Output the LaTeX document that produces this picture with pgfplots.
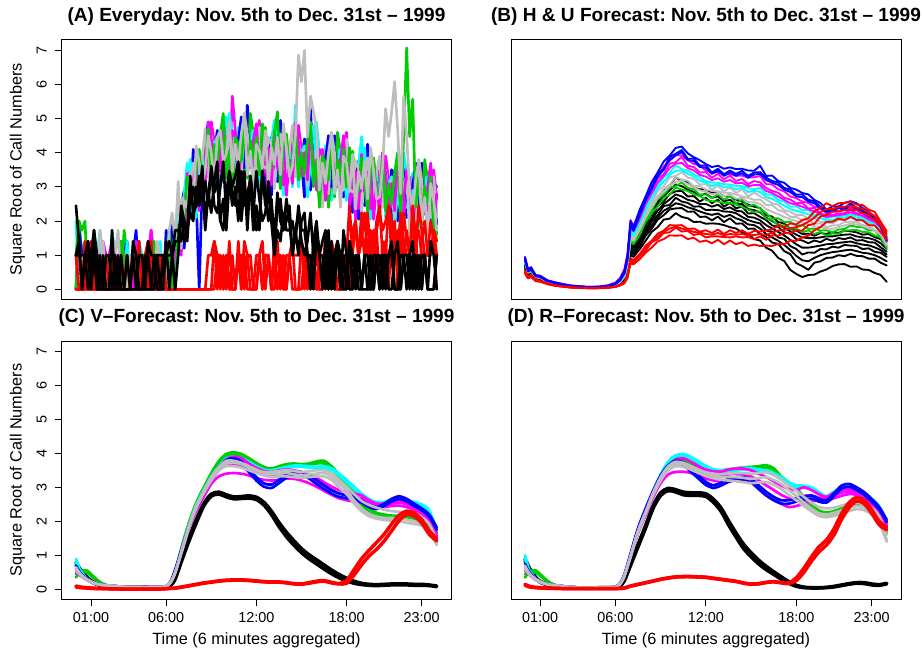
\documentclass[border=0pt]{standalone}
\usepackage{fontspec}
\setmainfont{Liberation Sans}
\usepackage{pgfplots}
\usepackage{pgfplotstable}
\pgfplotsset{compat=1.18}
\definecolor{rk}{RGB}{0,0,0}
\definecolor{rr}{RGB}{255,0,0}
\definecolor{rg}{RGB}{0,205,0}
\definecolor{rb}{RGB}{0,0,255}
\definecolor{rc}{RGB}{0,255,255}
\definecolor{rm}{RGB}{255,0,255}
\definecolor{ry}{RGB}{190,190,190}

\pgfplotstableread{
t k1 k2 r1 r2 g1 g2 b1 b2 c1 c2 m1 m2 y1 y2
0.0 2.45 1 1 0 0 1 1 0 2 0 1 0 0 0
0.2 1.41 1.41 0 0 2 2 0 1.73 0 1 1 1.41 0 1
0.4 0 0 0 0 1.73 1 1 1 0 0 0 0 1 0
0.6 1 1 0 0 2 1.41 0 0 1.41 1 1 0 1 1
0.8 0 1 1 0 0 0 1.41 1 0 0 0 1 0 1
1.0 1 0 0 1.41 0 1 1 0 1 1 1 1 1 0
1.2 1.73 1.73 0 0 1 0 0 1.41 0 0 0 0 1 0
1.4 0 1 1 0 1 1 0 0 1 1 1 1 0 0
1.6 0 0 0 0 0 0 1 0 1.73 1 0 1 0 1.73
1.8 0 1 0 0 1 1 1 1 0 0 1.41 0 1.41 1
2.0 1 0 0 1 0 0 0 1 0 0 1 0 0 0
2.2 1 0 0 0 1 1 1 0 0 0 0 1 1 1
2.4 0 0 1.41 0 0 1 1 1 1 1.73 0 1.41 0 0
2.6 1 0 0 1 1 0 0 1 1 1 1 0 1 1.41
2.8 0 0 0 0 0 0 0 0 0 0 1 1 1.73 0
3.0 1 0 0 0 1.41 0 1.41 0 1 1 0 0 0 0
3.2 0 0 0 0 1 1.73 0 1 0 0 1 1 0 1
3.4 1 0 0 1 0 1 1 1.41 1 1.41 1 0 0 1
3.6 0 0 0 0 0 0 0 0 0 0 0 1 1 0
3.8 1.41 0 1 0 1 1 1 1 1 0 0 0 1 1
4.0 1 0 0 0 1 0 1.73 0 0 1 1.41 1 0 1
4.2 0 0 0 1.41 0 1.41 0 1 1.41 1 0 1 1 0
4.4 0 0 0 0 1 0 0 0 1 0 1 0 0 0
4.6 1 0 1 1 1 0 0 1 0 1 0 0 1 1
4.8 1 0 0 0 0 1 1 0 0 1 1 0 0 1.41
5.0 0 0 1.41 0 0 1 1 1 1 0 1.73 1.73 1 0
5.2 1 0 0 0 1.41 0 0 1 1 0 0 1 0 1
5.4 1 1 0 1 0 1 1 0 0 1 0 0 1.41 0
5.6 0 1 0 0 1 1 0 0 1 1.41 0 1 1 1
5.8 0 1 1 0 0 0 1 0 1 0 1 0 0 0
6.0 1.41 1 0 0 1 0 0 1.73 0 1 1 1.41 0 1
6.2 0 1.41 0 0 1.73 1 1 1 0 0 0 0 1.73 0
6.4 1 1 0 0 0 1.41 0 2 1.41 1 1 0 2.24 1
6.6 0 1.73 0 0 0 0 1.41 1 0 0 0 1 1.41 1
6.8 1 1.73 0 0 1.9 2.5 1.0 1.8 1.8 2.3 1.6 1.4 3.16 1.3
7.0 2.45 1.41 0 0 1.5 1.9 2.4 2.4 1.6 1.8 1.0 2.3 1.2 2.6
7.2 2 2 0 0 2.1 2.0 2.9 1.2 2.8 1.8 2.7 1.5 2.6 2.7
7.4 1.41 1.73 0 0 3.3 3.2 2.3 2.6 3.7 2.9 2.8 3.4 2.4 1.7
7.6 2.83 3.32 0 0 2.9 3.2 2.7 2.1 2.1 3.8 2.5 2.5 3.4 2.9
7.8 3 2.24 0 0 2.1 2.1 3.9 4.1 3.0 2.5 3.8 3.2 2.5 3.7
8.0 2.45 2.45 0 0 3.6 3.3 2.6 3.7 2.1 3.8 2.4 3.6 4.2 3.0
8.2 2.65 3.32 0 0 4.0 4.1 0 3.0 3.8 3.2 3.7 2.3 3.7 2.9
8.4 3.61 3.16 0 0 3.25 3.35 3.15 3.75 3.75 3.85 3.35 3.55 3.05 3.85
8.6 2 1.73 0 0 3.6 3.2 4.2 3.1 3.4 2.9 4.3 3.0 3.5 4.7
8.8 2.83 2.83 0 0 4.7 4.1 4.9 4.7 4.6 4.6 3.3 4.9 4.5 3.3
9.0 2.24 3.46 0 0 3.3 4.9 3.2 3.8 3.1 3.6 4.9 4.4 4.0 4.5
9.2 3.16 2.45 0 1.41 4.25 3.55 4.05 3.75 4.35 4.25 4.35 3.65 3.15 3.85
9.4 3.74 2.24 1 1 3.65 4.65 2.95 4.65 3.85 4.45 3.55 4.25 4.45 4.35
9.6 2 3 1 0 4.55 3.85 4.45 4.45 4.65 2.95 3.85 3.45 4.65 3.25
9.8 2.65 3.74 0 1 5.15 4.35 4.25 3.15 3.55 4.05 4.75 4.95 3.75 4.85
10.0 1.73 2.24 1 0 3.35 3.25 3.75 4.15 5.05 3.35 4.15 3.95 3.95 3.75
10.2 3.16 3.32 0 1.41 4.05 4.85 4.85 4.75 4.35 5.15 3.15 3.75 4.95 4.25
10.4 2.83 2.45 1 0 2.95 3.75 3.25 3.85 3.55 4.55 5.66 4.65 3.45 4.45
10.6 2.45 3 0 0 4.45 4.25 4.35 3.55 3.85 3.65 4.65 4.45 4.25 2.95
10.8 3.46 2 1 1 4.25 4.45 3.85 4.35 4.75 4.25 3.75 3.15 3.65 4.05
11.0 2 3.46 0 1 3.75 2.95 4.65 5.05 4.15 3.45 3.95 4.15 4.55 3.35
11.2 3 2.45 1.41 0 4.85 4.05 3.55 3.55 3.15 4.95 4.95 4.75 5.15 5.15
11.4 2.45 2.83 1 1 3.25 3.35 5.39 4.65 4.45 3.95 3.45 3.85 3.35 4.55
11.6 3.32 3.16 0 1 4.35 5.15 4.35 3.85 4.65 3.75 4.25 3.55 4.05 3.65
11.8 2.24 1.73 0 0 3.85 4.55 3.55 4.35 3.75 4.65 3.65 4.35 2.95 4.25
12.0 3.46 2.45 1 0 4.45 3.45 3.65 3.05 3.75 4.25 4.35 4.85 4.25 3.25
12.2 2.65 1.73 1 1 3.35 4.05 4.55 4.65 4.75 2.95 4.95 3.35 4.05 4.75
12.4 2 3.46 0 1.41 4.85 3.25 3.95 3.55 3.25 3.95 3.15 4.45 3.55 3.75
12.6 2.24 2.83 1 0 4.15 4.75 2.95 4.05 4.05 4.55 3.85 3.65 4.65 3.55
12.8 3.16 2 1 1 3.35 3.75 4.25 4.25 3.45 3.65 2.75 4.15 3.05 4.45
13.0 2.45 2.65 0 0 3.65 3.55 4.45 2.75 4.35 3.35 4.25 3.05 4.15 4.25
13.2 1 1.41 0 1 4.55 4.45 3.55 3.85 4.95 4.15 4.05 4.65 3.65 2.95
13.4 2.45 2.83 1.41 0 5.2 4.25 3.75 3.15 3.15 4.85 3.55 3.55 4.45 3.95
13.6 2.65 2 0 1 2.95 2.95 4.75 4.95 3.85 3.35 4.65 4.05 3.35 4.55
13.8 1.73 1.73 1 0 4.25 3.95 3.25 4.35 2.75 4.45 3.05 4.25 4.85 3.65
14.0 2 2.65 0 1 4.45 4.55 4.05 3.45 4.25 3.65 4.15 2.75 4.15 3.35
14.2 2.45 2 1 1 3.5 3.6 3.4 4.0 4.0 4.1 3.6 3.8 3.3 4.1
14.4 1 1 1.41 0 3.7 3.3 4.3 3.2 3.5 3.0 4.4 3.1 3.6 4.8
14.6 1.73 1.73 0 0 4.7 4.1 4.9 4.7 5.39 4.6 3.3 4.9 4.5 3.3
14.8 1 2.24 0 0 3.2 4.8 3.1 3.7 3.0 3.5 4.8 4.3 6.86 4.4
15.0 2 1.41 0 1.41 4.0 3.3 3.8 3.5 4.1 4.0 4.1 3.4 6.08 3.6
15.2 2.24 1 1 1 3.4 4.4 2.7 4.4 3.6 4.2 3.3 4.0 7 4.1
15.4 1 1.41 1 0 4.3 3.6 4.2 4.2 4.4 2.7 3.6 3.2 4.47 3.0
15.6 1 2.24 0 1 4.9 4.1 5.29 2.9 3.3 3.8 4.5 4.7 5.66 4.6
15.8 0 1 1 0 3.1 3.0 3.5 3.9 4.8 3.1 3.9 3.7 5.2 3.5
16.0 1.73 1.73 0 1.41 3.8 4.6 4.6 4.5 4.1 4.9 2.9 3.5 4.7 4.0
16.2 1 1 1 0 2.4 3.2 2.7 3.3 3.0 4.0 3.9 4.1 2.9 3.9
16.4 0 1 0 0 3.9 3.7 3.8 3.0 3.3 3.1 4.1 3.9 3.7 2.4
16.6 1.41 0 1 1 3.7 3.9 3.3 3.8 4.2 3.7 3.2 2.6 3.1 3.5
16.8 0 1.73 0 1 3.2 2.4 4.1 4.5 3.6 2.9 3.4 3.6 4.0 2.8
17.0 1 0 1.41 0 4.3 3.5 3.0 3.0 2.6 4.4 4.4 4.2 4.6 4.6
17.2 1 1 1 1 2.7 2.8 4.5 4.1 3.9 3.4 2.9 3.3 2.8 4.0
17.4 1.41 1 0 1.41 3.8 4.6 3.8 3.3 4.1 3.2 3.7 3.0 3.5 3.1
17.6 0 0 0 0 3.3 4.0 3.0 3.8 3.2 4.1 3.1 3.8 2.4 3.7
17.8 1.73 1 1 0 4.1 3.1 3.3 2.7 3.4 3.9 4.0 4.5 3.9 2.9
18.0 1 0 1 1 3.0 3.7 4.2 4.3 4.4 2.6 4.6 3.0 3.7 4.4
18.2 0 1.41 0 2.45 4.15 2.55 3.25 2.85 2.55 3.25 2.45 3.75 2.85 3.05
18.4 0 1 1.73 1 3.45 4.05 2.25 3.35 3.35 3.85 3.15 2.95 3.95 2.85
18.6 1 0 2 2 2.65 3.05 3.55 3.55 2.75 2.95 2.05 3.45 2.35 3.75
18.8 1 1 1 1 2.95 2.85 3.75 2.05 3.65 2.65 3.55 2.35 3.45 3.55
19.0 0 0 1.41 1.73 3.85 3.75 2.85 3.15 4.47 3.45 3.35 3.95 2.95 2.25
19.2 1 1 2.24 1 3.25 3.55 3.05 2.45 2.45 4.15 2.85 2.85 3.75 3.25
19.4 1 0 1 2.24 2.25 2.25 4.05 4.25 3.15 2.65 3.95 3.35 2.65 3.85
19.6 0 0 1.73 1 3.55 3.25 2.55 3.65 2.05 3.75 2.35 3.55 4.15 2.95
19.8 0 1 1 1.73 3.75 3.85 3.35 2.75 3.55 2.95 3.45 2.05 3.45 2.65
20.0 1 1 2 1.73 2.85 2.95 2.75 3.35 3.35 3.45 2.95 3.15 2.65 3.45
20.2 0 0 2.45 0 2.8 2.4 3.4 2.3 2.6 2.1 3.5 2.2 2.7 3.9
20.4 1 1 1 1.41 3.8 3.2 4.0 3.8 3.7 3.7 2.4 4.0 3.6 2.4
20.6 0 1 1.41 1 2.3 3.9 2.2 2.8 2.1 2.6 3.9 3.4 5.29 3.5
20.8 1 0 0 2.45 3.1 2.4 2.9 2.6 3.2 3.1 3.2 2.5 4.47 2.7
21.0 1.41 0 1.73 2 2.5 3.5 1.8 3.5 2.7 3.3 2.4 3.1 5.2 3.2
21.2 0 1 1.73 1 3.4 2.7 3.3 3.3 3.5 1.8 2.7 2.3 6.08 2.1
21.4 0 1.41 1 1.73 4.0 3.2 3.1 2.0 2.4 2.9 3.6 3.8 4.69 3.7
21.6 0 0 2.24 1 2.2 2.1 2.6 3.0 3.9 2.2 3.0 2.8 2.8 2.6
21.8 1 1 1 2.24 4.47 3.7 3.7 3.6 3.2 4.0 2.0 2.6 5.66 3.1
22.0 1 0 1.73 1.41 7.07 2.6 2.1 2.7 2.4 3.4 3.3 3.5 4.47 3.3
22.2 0 1 1 1 4.47 2.9 3.0 2.2 2.5 2.3 3.3 3.1 2.9 1.6
22.4 1 0 2 2 5.57 3.1 2.5 3.0 3.4 2.9 2.4 1.8 2.3 2.7
22.6 0 1 1 1.73 2.4 1.6 3.3 3.7 2.8 2.1 2.6 2.8 3.2 2.0
22.8 1 0 2.45 0 3.5 2.7 2.2 2.2 1.8 3.6 3.6 3.4 3.8 3.8
23.0 0 1 1.73 1.41 1.9 2.0 3.7 3.3 3.1 2.6 2.1 2.5 2.0 3.2
23.2 1 1 1 2 3.0 3.8 3.0 2.5 3.3 2.4 2.9 2.2 2.7 2.3
23.4 0 0 1 1 2.5 3.2 2.2 3.0 2.4 3.3 2.3 3.0 1.6 2.9
23.6 1.41 0 2 1 3.3 2.3 2.5 1.9 2.6 3.1 3.2 3.7 3.1 2.1
23.8 1 0 1.41 1.73 1.9 2.6 3.1 3.2 3.3 1.5 3.5 1.9 2.6 3.3
24.0 0 1 0 1 1.41 1.6 3.0 1.9 2.24 2.3 2.65 2.8 1.73 2.1
}\tabA

\pgfplotstableread{
t r3 k3
0.0 0 1
0.2 0 1
0.4 0 1
0.6 1.41 1
0.8 0 1.41
1.0 0 0
1.2 0 1
1.4 0 0
1.6 0 1
1.8 0 0
2.0 0 0
2.2 0 0
2.4 0 1.73
2.6 0 0
2.8 0 1
3.0 1 0
3.2 0 0
3.4 0 0
3.6 0 0
3.8 0 1
4.0 0 0
4.2 1 1
4.4 0 1
4.6 1 0
4.8 1.41 1.41
5.0 0 1
5.2 1 1
5.4 0 0
5.6 1 0
5.8 0 1
6.0 0 1
6.2 0 1
6.4 0 1
6.6 0 1.41
6.8 0 1.41
7.0 0 2.24
7.2 0 1.41
7.4 0 1.73
7.6 0 2.24
7.8 0 2
8.0 0 3
8.2 0 2.45
8.4 0 2.83
8.6 0 3.16
8.8 1 2.45
9.0 1 3.61
9.2 1.41 2.83
9.4 0 3.16
9.6 1 2
9.8 0 1.73
10.0 1 2.83
10.2 0 3.46
10.4 0 3
10.6 0 3.32
10.8 1.41 3.74
11.0 0 2.24
11.2 1 3.46
11.4 0 1.73
11.6 0 3.32
11.8 0 2.65
12.0 0 1.73
12.2 1 2
12.4 0 3.46
12.6 1 2.45
12.8 1 2.83
13.0 0 2
13.2 1.41 1
13.4 1 1.73
13.6 1 1.41
13.8 0 2.24
14.0 0 1.73
14.2 1 1.73
14.4 1 2
14.6 1 1.41
14.8 1 2.45
15.0 1.41 1.73
15.2 0 1.73
15.4 1 1
15.6 0 0
15.8 1 1.41
16.0 0 2
16.2 0 1
16.4 0 1.41
16.6 1.73 1.73
16.8 0 0
17.0 1 1.41
17.2 0 0
17.4 0 1.41
17.6 0 1
17.8 0 0
18.0 1 0
18.2 1 1.41
18.4 1.41 0
18.6 1.73 1
18.8 1 0
19.0 2.24 0
19.2 1.73 0
19.4 2 0
19.6 1 1
19.8 0 0
20.0 1.73 1
20.2 2.24 1
20.4 1.73 0
20.6 2 1
20.8 2.45 1
21.0 1 1
21.2 2 0
21.4 0 0
21.6 2 1
21.8 1.41 1
22.0 1 1
22.2 1 1
22.4 2.45 1.41
22.6 1.41 0
22.8 1.73 1
23.0 1 0
23.2 1 1
23.4 1 0
23.6 1 0
23.8 1.73 0
24.0 1.41 1
}\tabAx

\pgfplotstableread{
t b1 b2 m1 m2 c1 y1 y2 g1 g2 k1 k2 k3 k4 k5 r1 r2 r3
0.0 .95 .9 .92 .88 .85 .82 .8 .78 .75 .85 .7 .75 .65 .6 .55 .5 .45
0.2 .58 .55 .6 .52 .55 .5 .52 .48 .5 .55 .48 .5 .45 .42 .38 .35 .32
0.4 .65 .6 .62 .58 .6 .55 .57 .52 .55 .6 .5 .55 .5 .45 .42 .4 .36
0.7 .42 .4 .42 .38 .4 .37 .38 .35 .36 .4 .34 .36 .33 .3 .28 .26 .24
1.0 .4 .38 .38 .36 .37 .35 .36 .33 .34 .37 .32 .33 .3 .28 .25 .24 .22
1.5 .26 .25 .26 .24 .25 .23 .24 .22 .23 .25 .21 .22 .2 .18 .17 .16 .15
2.0 .2 .19 .21 .18 .19 .18 .19 .17 .18 .19 .16 .17 .15 .14 .12 .11 .1
2.5 .15 .14 .16 .13 .14 .13 .14 .12 .13 .14 .12 .13 .11 .1 .09 .08 .08
3.0 .11 .1 .12 .1 .1 .1 .1 .09 .1 .1 .09 .09 .08 .07 .06 .06 .05
3.5 .09 .08 .1 .08 .09 .08 .08 .07 .08 .08 .07 .07 .06 .06 .05 .04 .04
4.0 .07 .07 .08 .07 .07 .07 .07 .06 .06 .07 .06 .06 .05 .05 .04 .04 .03
4.5 .07 .06 .08 .06 .06 .06 .06 .05 .06 .06 .05 .05 .05 .04 .03 .03 .03
5.0 .08 .07 .09 .07 .07 .07 .07 .06 .07 .07 .06 .06 .05 .05 .04 .04 .03
5.5 .11 .1 .12 .1 .1 .09 .09 .08 .09 .09 .08 .08 .07 .07 .05 .05 .04
6.0 .18 .16 .2 .16 .15 .14 .14 .13 .13 .14 .12 .12 .11 .1 .08 .08 .07
6.3 .3 .27 .33 .26 .25 .23 .22 .2 .2 .22 .2 .19 .17 .16 .13 .12 .11
6.6 .55 .5 .6 .48 .45 .42 .4 .37 .36 .4 .36 .34 .3 .28 .22 .2 .18
6.8 1.0 .92 1.05 .88 .82 .75 .72 .68 .65 .72 .65 .6 .55 .5 .4 .36 .33
7.0 2.0 1.92 2.03 1.85 1.75 1.6 1.52 1.45 1.4 1.42 1.28 1.15 1.06 1.0 .9 .82 .76
7.2 1.82 1.78 1.86 1.74 1.66 1.5 1.47 1.38 1.32 1.35 1.22 1.08 1.02 0.95 0.86 0.78 0.73
7.6 2.32 2.18 2.27 2.12 1.98 1.88 1.74 1.72 1.58 1.68 1.48 1.42 1.24 1.17 1.03 0.97 0.88
8.0 2.72 2.68 2.66 2.58 2.42 2.22 2.17 2.03 1.97 1.97 1.88 1.68 1.57 1.42 1.28 1.13 1.07
8.4 3.14 2.97 3.04 2.82 2.78 2.52 2.48 2.33 2.23 2.34 2.07 1.98 1.77 1.68 1.42 1.38 1.22
8.8 3.42 3.38 3.31 3.24 3.02 2.88 2.72 2.64 2.42 2.57 2.44 2.17 2.04 1.82 1.63 1.47 1.4
9.2 3.74 3.52 3.6 3.37 3.28 3.02 2.94 2.77 2.68 2.89 2.57 2.44 2.17 2.04 1.72 1.65 1.47
9.6 3.92 3.88 3.76 3.68 3.42 3.28 3.07 2.98 2.77 3.02 2.79 2.47 2.34 2.07 1.88 1.67 1.58
10.0 4.14 3.97 3.93 3.72 3.63 3.32 3.28 3.02 2.98 3.28 2.87 2.68 2.37 2.23 1.87 1.81 1.57
10.4 4.18 4.08 3.92 3.88 3.52 3.43 3.22 3.13 2.92 3.17 2.88 2.57 2.38 2.12 1.88 1.69 1.58
10.8 3.98 3.82 3.78 3.62 3.48 3.27 3.18 2.97 2.88 3.13 2.72 2.53 2.27 2.08 1.77 1.71 1.47
11.2 3.87 3.83 3.67 3.58 3.37 3.23 3.02 2.93 2.77 2.97 2.73 2.42 2.28 1.97 1.78 1.59 1.51
11.6 3.78 3.62 3.63 3.42 3.28 3.07 3.03 2.77 2.73 2.93 2.57 2.43 2.12 1.98 1.69 1.63 1.39
12.0 3.67 3.63 3.47 3.43 3.17 3.08 2.92 2.78 2.62 2.92 2.68 2.32 2.13 1.92 1.73 1.52 1.43
12.4 3.58 3.42 3.43 3.27 3.13 2.92 2.88 2.67 2.58 2.83 2.52 2.33 2.02 1.93 1.65 1.55 1.35
12.8 3.62 3.53 3.42 3.38 3.12 3.03 2.87 2.78 2.57 2.82 2.63 2.32 2.13 1.92 1.75 1.55 1.45
13.2 3.53 3.37 3.38 3.22 3.08 2.87 2.83 2.62 2.53 2.73 2.42 2.28 1.97 1.88 1.62 1.53 1.32
13.6 3.57 3.48 3.37 3.33 3.07 2.98 2.82 2.73 2.52 2.72 2.53 2.27 2.08 1.82 1.73 1.52 1.43
14.0 3.52 3.38 3.32 3.17 3.03 2.82 2.78 2.52 2.48 2.63 2.37 2.23 1.92 1.78 1.65 1.55 1.32
14.4 3.53 3.47 3.33 3.23 3.02 2.93 2.72 2.63 2.42 2.57 2.43 2.12 1.93 1.67 1.73 1.52 1.38
14.8 3.48 3.32 3.27 3.08 2.97 2.72 2.68 2.43 2.33 2.48 2.22 2.03 1.77 1.63 1.62 1.53 1.27
15.2 3.47 3.42 3.28 3.17 2.93 2.83 2.62 2.48 2.27 2.42 2.23 1.97 1.78 1.47 1.71 1.47 1.31
15.6 3.62 3.43 3.32 3.13 2.97 2.72 2.63 2.37 2.28 2.38 2.12 1.93 1.62 1.43 1.69 1.55 1.27
16.0 3.32 3.27 3.08 2.97 2.78 2.63 2.47 2.23 2.07 2.17 2.03 1.72 1.53 1.22 1.73 1.45 1.28
16.4 3.33 3.17 3.07 2.88 2.77 2.52 2.47 2.07 2.03 2.13 1.87 1.68 1.37 1.13 1.75 1.58 1.27
16.8 3.17 3.13 2.93 2.83 2.62 2.48 2.32 2.08 1.87 1.97 1.83 1.52 1.33 0.92 1.88 1.57 1.33
17.2 3.12 2.97 2.87 2.68 2.57 2.32 2.27 1.97 1.88 1.93 1.67 1.48 1.12 0.83 1.82 1.65 1.32
17.6 2.97 2.92 2.72 2.63 2.42 2.27 2.12 1.98 1.77 1.77 1.63 1.27 1.03 0.57 1.93 1.65 1.43
18.0 2.92 2.77 2.67 2.52 2.43 2.17 2.12 1.87 1.78 1.72 1.47 1.18 0.77 0.45 1.9 1.73 1.42
18.4 2.82 2.78 2.57 2.53 2.32 2.18 2.02 1.88 1.67 1.62 1.43 1.02 0.68 0.36 2.03 1.72 1.53
18.8 2.78 2.62 2.53 2.37 2.33 2.07 2.03 1.77 1.73 1.63 1.35 1.08 0.57 0.42 2.08 1.88 1.57
19.2 2.62 2.58 2.42 2.38 2.17 2.08 1.92 1.78 1.62 1.57 1.43 1.07 0.78 0.43 2.28 1.92 1.73
19.6 2.53 2.42 2.38 2.22 2.18 1.97 1.93 1.72 1.68 1.65 1.38 1.18 0.82 0.52 2.38 2.13 1.82
20.0 2.33 2.32 2.22 2.17 2.07 1.97 1.82 1.73 1.57 1.62 1.48 1.17 0.92 0.58 2.52 2.18 1.97
20.4 2.43 2.33 2.32 2.18 2.13 1.93 1.87 1.67 1.64 1.68 1.42 1.25 0.93 0.68 2.43 2.27 1.98
20.8 2.42 2.43 2.28 2.22 2.12 2.03 1.88 1.75 1.62 1.65 1.5 1.22 1.0 0.73 2.52 2.28 2.07
21.2 2.53 2.38 2.37 2.23 2.17 2.02 1.97 1.77 1.72 1.72 1.47 1.3 0.97 0.74 2.53 2.32 2.03
21.6 2.58 2.52 2.38 2.32 2.18 2.12 1.98 1.87 1.73 1.7 1.52 1.28 1.04 0.66 2.57 2.33 2.12
22.0 2.52 2.38 2.37 2.23 2.17 2.03 1.97 1.83 1.74 1.67 1.43 1.27 0.98 0.67 2.48 2.32 2.03
22.4 2.38 2.32 2.28 2.22 2.08 2.02 1.88 1.82 1.68 1.6 1.44 1.18 0.97 0.58 2.47 2.23 2.02
22.8 2.27 2.18 2.22 2.08 2.02 1.93 1.87 1.73 1.67 1.62 1.38 1.2 0.9 0.57 2.33 2.17 1.88
23.2 2.13 2.12 2.08 2.02 1.93 1.87 1.73 1.72 1.58 1.53 1.37 1.1 0.9 0.48 2.27 2.03 1.87
23.6 1.97 1.88 1.92 1.83 1.82 1.68 1.67 1.53 1.52 1.47 1.23 1.07 0.78 0.42 1.98 1.87 1.68
24.0 1.5 1.45 1.45 1.4 1.4 1.35 1.3 1.25 1.2 1.25 1.1 0.95 0.7 0.22 1.7 1.55 1.45
}\tabB

\pgfplotstableread{
t b3 m3 c2 y3 k6 k7 k8 r4
0.0 .86 .87 .83 .79 .78 .72 .7 .52
0.2 .53 .54 .52 .5 .52 .49 .47 .36
0.4 .58 .59 .57 .55 .55 .52 .52 .41
0.7 .39 .39 .38 .36 .37 .35 .34 .27
1.0 .37 .36 .36 .34 .34 .32 .31 .24
1.5 .24 .24 .24 .23 .23 .21 .21 .16
2.0 .18 .18 .18 .18 .17 .16 .16 .11
2.5 .13 .13 .13 .13 .13 .12 .12 .08
3.0 .1 .1 .1 .09 .09 .09 .08 .06
3.5 .08 .08 .08 .07 .07 .07 .06 .04
4.0 .07 .07 .07 .06 .06 .06 .05 .04
4.5 .06 .06 .06 .05 .05 .05 .05 .03
5.0 .07 .07 .07 .06 .06 .06 .05 .04
5.5 .1 .1 .09 .08 .08 .08 .07 .05
6.0 .16 .15 .14 .13 .13 .12 .11 .08
6.3 .26 .25 .24 .21 .21 .19 .18 .12
6.6 .48 .46 .43 .38 .38 .35 .32 .21
6.8 .9 .85 .78 .7 .68 .62 .58 .38
7.0 1.88 1.8 1.68 1.48 1.35 1.22 1.1 .86
7.2 1.72 1.7 1.58 1.42 1.28 1.15 1.05 .82
7.6 2.15 2.05 1.93 1.73 1.58 1.45 1.33 1.0
8.0 2.6 2.5 2.32 2.1 1.93 1.78 1.62 1.2
8.4 2.93 2.8 2.65 2.4 2.2 2.03 1.87 1.4
8.8 3.3 3.13 2.95 2.68 2.5 2.3 2.1 1.55
9.2 3.5 3.32 3.15 2.85 2.73 2.5 2.3 1.68
9.6 3.8 3.55 3.35 3.02 2.9 2.63 2.4 1.78
10.0 3.92 3.68 3.47 3.15 3.07 2.78 2.52 1.84
10.4 4.02 3.7 3.48 3.18 3.02 2.72 2.48 1.78
10.8 3.78 3.55 3.38 3.08 2.92 2.62 2.4 1.74
11.2 3.76 3.48 3.3 2.98 2.85 2.58 2.35 1.68
11.6 3.58 3.35 3.18 2.9 2.75 2.5 2.28 1.66
12.0 3.56 3.3 3.12 2.85 2.8 2.5 2.22 1.62
12.4 3.38 3.2 3.02 2.78 2.68 2.42 2.18 1.6
12.8 3.47 3.25 3.08 2.82 2.72 2.48 2.22 1.65
13.2 3.32 3.15 2.98 2.72 2.58 2.35 2.12 1.58
13.6 3.42 3.2 3.02 2.78 2.62 2.4 2.18 1.62
14.0 3.33 3.1 2.92 2.65 2.5 2.3 2.08 1.6
14.4 3.4 3.12 2.98 2.68 2.5 2.28 2.02 1.62
14.8 3.27 3.02 2.85 2.55 2.35 2.12 1.9 1.58
15.2 3.36 3.05 2.88 2.55 2.32 2.1 1.88 1.59
15.6 3.38 3.05 2.85 2.5 2.25 2.02 1.78 1.62
16.0 3.2 2.88 2.7 2.35 2.1 1.88 1.62 1.59
16.4 3.12 2.82 2.65 2.27 2.0 1.78 1.52 1.66
16.8 3.06 2.72 2.55 2.2 1.9 1.68 1.42 1.72
17.2 2.92 2.62 2.45 2.12 1.8 1.58 1.3 1.74
17.6 2.85 2.52 2.35 2.05 1.7 1.45 1.15 1.79
18.0 2.72 2.48 2.3 2.0 1.6 1.32 0.98 1.82
18.4 2.7 2.42 2.25 1.95 1.52 1.22 0.85 1.88
18.8 2.57 2.35 2.2 1.9 1.5 1.22 0.82 1.98
19.2 2.52 2.28 2.12 1.85 1.5 1.25 0.92 2.1
19.6 2.37 2.2 2.08 1.82 1.52 1.28 1.0 2.26
20.0 2.27 2.12 2.02 1.78 1.55 1.32 1.05 2.35
20.4 2.28 2.15 2.03 1.77 1.55 1.33 1.09 2.35
20.8 2.38 2.17 2.08 1.82 1.58 1.36 1.11 2.4
21.2 2.33 2.2 2.1 1.87 1.6 1.38 1.14 2.42
21.6 2.47 2.25 2.15 1.92 1.61 1.4 1.16 2.45
22.0 2.33 2.2 2.1 1.9 1.55 1.35 1.12 2.4
22.4 2.27 2.15 2.05 1.85 1.52 1.31 1.07 2.35
22.8 2.13 2.05 1.98 1.8 1.5 1.29 1.05 2.25
23.2 2.06 1.98 1.9 1.72 1.45 1.23 1.0 2.15
23.6 1.84 1.82 1.75 1.6 1.35 1.15 0.92 1.92
24.0 1.42 1.4 1.38 1.28 1.18 1.02 0.82 1.62
}\tabBx

\pgfplotstableread{
t k1 k2 r1 r2 g1 g2 b1 b2 c1 c2 m1 m2 m3 y1 y2 y3
0 0.80 0.72 0.10 0.07 0.35 0.45 0.70 0.62 0.90 0.80 0.60 0.50 0.55 0.65 0.55 0.60
0.3 0.58 0.52 0.07 0.05 0.52 0.50 0.48 0.45 0.55 0.50 0.45 0.40 0.42 0.45 0.42 0.44
0.7 0.38 0.34 0.05 0.04 0.56 0.50 0.32 0.30 0.33 0.30 0.30 0.28 0.30 0.30 0.28 0.30
1 0.26 0.23 0.04 0.03 0.45 0.40 0.24 0.22 0.24 0.22 0.23 0.21 0.22 0.23 0.21 0.22
1.5 0.15 0.13 0.03 0.02 0.25 0.22 0.16 0.15 0.16 0.15 0.15 0.14 0.15 0.15 0.14 0.15
2 0.11 0.10 0.02 0.02 0.13 0.12 0.12 0.11 0.12 0.11 0.12 0.11 0.12 0.12 0.11 0.12
3 0.07 0.06 0.01 0.01 0.08 0.08 0.08 0.07 0.08 0.07 0.08 0.07 0.08 0.08 0.07 0.08
4 0.06 0.05 0.01 0.01 0.06 0.06 0.06 0.05 0.06 0.05 0.06 0.05 0.06 0.06 0.05 0.06
5 0.07 0.06 0.01 0.01 0.07 0.07 0.07 0.06 0.07 0.06 0.07 0.06 0.07 0.07 0.06 0.07
5.6 0.07 0.06 0.01 0.01 0.07 0.07 0.07 0.06 0.07 0.06 0.07 0.06 0.07 0.07 0.06 0.07
6 0.06 0.05 0.02 0.02 0.09 0.09 0.10 0.09 0.09 0.09 0.09 0.09 0.09 0.09 0.09 0.09
6.3 0.14 0.12 0.03 0.03 0.20 0.20 0.24 0.22 0.22 0.22 0.22 0.21 0.22 0.22 0.21 0.22
6.6 0.35 0.30 0.04 0.04 0.50 0.50 0.58 0.55 0.55 0.53 0.52 0.50 0.52 0.50 0.48 0.50
7 0.88 0.80 0.07 0.06 1.20 1.15 1.15 1.10 1.15 1.10 1.10 1.05 1.08 1.10 1.05 1.08
7.5 1.50 1.40 0.11 0.10 1.95 1.90 1.85 1.80 1.88 1.82 1.82 1.75 1.80 1.85 1.78 1.82
8 2.05 1.95 0.15 0.14 2.55 2.50 2.42 2.38 2.48 2.42 2.40 2.30 2.35 2.45 2.38 2.42
8.5 2.52 2.45 0.19 0.18 3.00 2.95 2.88 2.82 2.92 2.88 2.85 2.72 2.80 2.90 2.82 2.86
9 2.80 2.74 0.22 0.21 3.42 3.35 3.28 3.22 3.32 3.28 3.25 3.10 3.20 3.30 3.20 3.26
9.5 2.86 2.80 0.25 0.24 3.77 3.70 3.60 3.55 3.62 3.58 3.58 3.32 3.50 3.60 3.50 3.55
10 2.78 2.72 0.27 0.26 3.98 3.92 3.80 3.75 3.85 3.80 3.82 3.40 3.65 3.78 3.62 3.70
10.5 2.72 2.66 0.28 0.27 4.03 3.96 3.86 3.80 3.90 3.85 3.90 3.42 3.68 3.78 3.62 3.72
11 2.73 2.67 0.28 0.27 3.98 3.90 3.76 3.68 3.85 3.80 3.85 3.40 3.62 3.72 3.58 3.68
11.5 2.75 2.68 0.27 0.26 3.86 3.78 3.55 3.45 3.75 3.70 3.70 3.35 3.55 3.62 3.50 3.58
12 2.71 2.64 0.25 0.24 3.72 3.65 3.30 3.20 3.62 3.58 3.57 3.27 3.45 3.52 3.42 3.50
12.5 2.56 2.48 0.23 0.22 3.60 3.55 3.12 3.02 3.52 3.48 3.48 3.22 3.38 3.42 3.35 3.45
13 2.30 2.20 0.22 0.21 3.55 3.52 3.08 2.98 3.50 3.45 3.45 3.20 3.35 3.38 3.30 3.45
13.5 1.97 1.85 0.22 0.21 3.62 3.58 3.22 3.12 3.55 3.50 3.50 3.22 3.38 3.40 3.32 3.48
14 1.68 1.55 0.20 0.19 3.68 3.64 3.38 3.28 3.60 3.56 3.52 3.26 3.42 3.42 3.32 3.50
14.5 1.43 1.30 0.17 0.16 3.70 3.66 3.45 3.36 3.64 3.60 3.50 3.25 3.40 3.38 3.30 3.48
15 1.20 1.08 0.16 0.15 3.68 3.64 3.45 3.36 3.64 3.60 3.45 3.20 3.35 3.35 3.28 3.45
15.5 1.02 0.90 0.20 0.18 3.70 3.65 3.36 3.26 3.62 3.58 3.38 3.12 3.28 3.38 3.30 3.47
16 0.87 0.75 0.24 0.22 3.76 3.70 3.22 3.10 3.60 3.56 3.28 3.02 3.18 3.40 3.32 3.50
16.5 0.72 0.60 0.26 0.24 3.78 3.70 3.06 2.95 3.62 3.58 3.15 2.90 3.05 3.42 3.32 3.50
17 0.57 0.46 0.21 0.19 3.62 3.55 2.92 2.82 3.56 3.50 3.02 2.78 2.92 3.32 3.22 3.42
17.5 0.44 0.34 0.17 0.16 3.38 3.30 2.82 2.72 3.40 3.35 2.92 2.68 2.82 3.12 3.00 3.22
18 0.33 0.25 0.26 0.18 3.12 3.05 2.76 2.68 3.22 3.15 2.86 2.62 2.76 2.92 2.80 3.02
18.5 0.24 0.18 0.58 0.42 2.85 2.75 2.72 2.65 3.02 2.95 2.82 2.58 2.72 2.62 2.52 2.80
19 0.18 0.14 0.90 0.72 2.58 2.48 2.62 2.55 2.82 2.76 2.76 2.55 2.68 2.38 2.30 2.60
19.5 0.15 0.12 1.15 0.98 2.38 2.28 2.48 2.42 2.66 2.60 2.62 2.48 2.56 2.22 2.15 2.48
20 0.14 0.11 1.38 1.18 2.25 2.17 2.42 2.36 2.57 2.52 2.52 2.42 2.48 2.14 2.08 2.40
20.5 0.15 0.12 1.62 1.42 2.20 2.14 2.52 2.45 2.57 2.52 2.52 2.42 2.48 2.10 2.04 2.34
21 0.16 0.13 1.92 1.72 2.17 2.12 2.66 2.58 2.64 2.58 2.56 2.45 2.52 2.10 2.02 2.30
21.5 0.16 0.13 2.18 2.02 2.16 2.12 2.74 2.66 2.67 2.62 2.60 2.46 2.55 2.08 2.00 2.28
22 0.16 0.13 2.30 2.20 2.16 2.12 2.66 2.58 2.62 2.58 2.56 2.42 2.50 2.05 1.96 2.25
22.5 0.15 0.12 2.25 2.15 2.14 2.08 2.52 2.45 2.57 2.52 2.48 2.35 2.42 2.00 1.92 2.20
23 0.15 0.12 2.05 1.95 2.06 2.00 2.38 2.32 2.50 2.45 2.35 2.22 2.30 1.95 1.88 2.12
23.5 0.13 0.11 1.72 1.62 1.86 1.80 2.20 2.14 2.32 2.26 2.15 2.02 2.10 1.75 1.70 1.92
24 0.10 0.08 1.50 1.42 1.55 1.60 1.82 1.75 1.75 1.70 1.65 1.55 1.60 1.30 1.35 1.45
}\tabC

\pgfplotstableread{
t k1 k2 r1 r2 g1 g2 b1 b2 c1 c2 m1 m2 m3 y1 y2 y3
0 0.90 0.84 0.15 0.12 0.35 0.45 0.75 0.68 1.00 0.90 0.65 0.55 0.60 0.70 0.60 0.65
0.3 0.62 0.56 0.09 0.07 0.52 0.48 0.50 0.46 0.55 0.50 0.45 0.42 0.44 0.46 0.43 0.45
0.7 0.36 0.32 0.06 0.05 0.56 0.50 0.32 0.30 0.33 0.30 0.30 0.28 0.30 0.30 0.28 0.30
1 0.24 0.21 0.05 0.04 0.45 0.40 0.24 0.22 0.24 0.22 0.23 0.21 0.22 0.23 0.21 0.22
1.5 0.15 0.13 0.04 0.03 0.25 0.22 0.16 0.15 0.16 0.15 0.15 0.14 0.15 0.15 0.14 0.15
2 0.10 0.09 0.03 0.03 0.13 0.12 0.12 0.11 0.12 0.11 0.12 0.11 0.12 0.12 0.11 0.12
3 0.06 0.05 0.02 0.02 0.07 0.07 0.07 0.06 0.07 0.06 0.07 0.06 0.07 0.07 0.06 0.07
4 0.04 0.04 0.02 0.02 0.05 0.05 0.05 0.04 0.05 0.04 0.05 0.04 0.05 0.05 0.04 0.05
5 0.05 0.05 0.02 0.02 0.06 0.06 0.06 0.05 0.06 0.05 0.06 0.05 0.06 0.06 0.05 0.06
5.6 0.05 0.05 0.02 0.02 0.06 0.06 0.06 0.05 0.06 0.05 0.06 0.05 0.06 0.06 0.05 0.06
6 0.04 0.04 0.02 0.02 0.07 0.07 0.08 0.07 0.07 0.07 0.07 0.07 0.07 0.07 0.07 0.07
6.3 0.10 0.09 0.03 0.03 0.15 0.15 0.18 0.16 0.16 0.16 0.16 0.15 0.16 0.16 0.15 0.16
6.6 0.30 0.26 0.04 0.04 0.40 0.40 0.45 0.42 0.42 0.41 0.41 0.40 0.41 0.41 0.40 0.41
7 0.75 0.70 0.10 0.09 1.00 0.97 1.05 1.00 1.00 0.97 0.98 0.95 0.97 0.98 0.95 0.97
7.5 1.32 1.25 0.15 0.14 1.75 1.70 1.80 1.75 1.75 1.70 1.70 1.65 1.68 1.72 1.68 1.70
8 1.88 1.80 0.20 0.19 2.30 2.25 2.38 2.32 2.32 2.28 2.25 2.18 2.22 2.28 2.22 2.26
8.5 2.46 2.38 0.25 0.24 2.85 2.80 2.90 2.85 2.88 2.84 2.80 2.70 2.76 2.84 2.76 2.80
9 2.84 2.76 0.30 0.29 3.35 3.30 3.35 3.30 3.38 3.34 3.28 3.12 3.22 3.30 3.20 3.26
9.5 2.97 2.90 0.34 0.33 3.72 3.66 3.65 3.60 3.76 3.72 3.62 3.38 3.52 3.62 3.50 3.56
10 2.93 2.86 0.37 0.36 3.88 3.82 3.78 3.72 3.94 3.90 3.82 3.45 3.65 3.75 3.62 3.70
10.5 2.86 2.78 0.38 0.37 3.86 3.80 3.74 3.66 3.98 3.94 3.85 3.46 3.68 3.72 3.60 3.68
11 2.84 2.76 0.38 0.37 3.76 3.70 3.55 3.46 3.90 3.86 3.75 3.42 3.60 3.62 3.52 3.60
11.5 2.84 2.76 0.37 0.36 3.66 3.60 3.35 3.26 3.76 3.72 3.62 3.35 3.50 3.52 3.42 3.50
12 2.81 2.73 0.36 0.35 3.57 3.52 3.16 3.07 3.63 3.58 3.52 3.26 3.40 3.42 3.34 3.44
12.5 2.65 2.56 0.33 0.32 3.52 3.48 3.06 2.98 3.53 3.49 3.47 3.20 3.35 3.35 3.27 3.40
13 2.40 2.30 0.30 0.29 3.50 3.46 3.14 3.05 3.50 3.46 3.46 3.18 3.34 3.30 3.22 3.38
13.5 2.02 1.90 0.27 0.26 3.53 3.48 3.25 3.16 3.52 3.48 3.52 3.20 3.38 3.30 3.20 3.40
14 1.66 1.54 0.24 0.23 3.56 3.50 3.30 3.21 3.55 3.50 3.55 3.24 3.40 3.30 3.18 3.42
14.5 1.33 1.20 0.19 0.18 3.59 3.53 3.30 3.20 3.58 3.52 3.55 3.22 3.38 3.28 3.15 3.42
15 1.08 0.96 0.16 0.15 3.60 3.54 3.24 3.14 3.56 3.50 3.50 3.15 3.32 3.25 3.12 3.40
15.5 0.86 0.75 0.17 0.16 3.62 3.56 3.06 2.95 3.53 3.48 3.40 3.02 3.20 3.27 3.14 3.42
16 0.68 0.58 0.21 0.20 3.65 3.58 2.87 2.76 3.50 3.45 3.30 2.86 3.06 3.30 3.16 3.44
16.5 0.52 0.44 0.23 0.22 3.56 3.50 2.72 2.62 3.42 3.36 3.18 2.70 2.92 3.22 3.08 3.36
17 0.37 0.30 0.20 0.19 3.32 3.26 2.62 2.52 3.30 3.25 3.05 2.52 2.78 3.10 2.95 3.22
17.5 0.23 0.18 0.19 0.17 3.15 3.08 2.62 2.52 3.15 3.10 2.95 2.42 2.68 2.92 2.78 3.05
18 0.12 0.09 0.34 0.26 2.98 2.92 2.67 2.58 3.06 3.00 2.92 2.45 2.68 2.75 2.62 2.90
18.5 0.07 0.05 0.62 0.50 2.72 2.65 2.72 2.64 3.05 3.00 3.00 2.52 2.75 2.55 2.45 2.72
19 0.05 0.04 0.95 0.82 2.50 2.42 2.76 2.67 3.00 2.95 2.92 2.60 2.76 2.38 2.30 2.55
19.5 0.05 0.04 1.25 1.10 2.32 2.25 2.66 2.58 2.86 2.80 2.80 2.60 2.70 2.24 2.16 2.42
20 0.06 0.05 1.45 1.30 2.26 2.20 2.62 2.55 2.74 2.68 2.72 2.60 2.66 2.20 2.12 2.38
20.5 0.09 0.07 1.78 1.60 2.30 2.24 2.82 2.74 2.88 2.82 2.84 2.68 2.76 2.25 2.16 2.40
21 0.13 0.11 2.22 2.05 2.38 2.32 3.05 2.96 3.00 2.95 2.92 2.75 2.84 2.32 2.22 2.46
21.5 0.17 0.15 2.55 2.40 2.48 2.42 3.10 3.02 3.04 2.98 2.95 2.80 2.88 2.40 2.30 2.52
22 0.20 0.18 2.70 2.60 2.55 2.48 3.00 2.92 2.96 2.90 2.90 2.78 2.84 2.45 2.36 2.55
22.5 0.20 0.17 2.62 2.52 2.50 2.44 2.86 2.78 2.82 2.76 2.78 2.66 2.72 2.42 2.33 2.50
23 0.16 0.13 2.34 2.24 2.30 2.22 2.66 2.58 2.66 2.60 2.60 2.48 2.55 2.30 2.20 2.40
23.5 0.14 0.12 2.00 1.90 2.05 1.98 2.42 2.35 2.45 2.40 2.35 2.22 2.30 2.05 1.95 2.15
24 0.18 0.16 1.82 1.75 1.72 1.65 2.05 1.98 2.00 1.95 1.95 1.85 1.90 1.45 1.40 1.60
}\tabD

\pgfplotsset{
  panel/.style={
    scale only axis, anchor=south west,
    xmin=-0.93, xmax=24.95, ymin=-0.283, ymax=7.3,
    axis line style={line width=0.75pt},
    tick align=outside, major tick length=5.25pt,
    tick style={black, line width=0.75pt},
    xtick pos=lower, ytick pos=left,
    /pgf/number format/assume math mode=true,
    title style={at={(axis description cs:0.5,1)}, anchor=base, yshift=8.1pt,
      font=\bfseries\fontsize{14.3pt}{17pt}\selectfont},
    ticklabel style={font=\fontsize{10.8pt}{13pt}\selectfont},
    yticklabel style={rotate=90, anchor=base},
    yticklabel shift=6.25pt,
    xticklabel shift=1.5pt,
    label style={font=\fontsize{12.2pt}{14.6pt}\selectfont},
    every axis plot/.append style={no markers, line join=round, line cap=round},
  },
  lA/.style={line width=2pt},
  lB/.style={line width=1.4pt},
  lK/.style={line width=2.6pt, smooth},
  lU/.style={line width=2pt, smooth},
}

\begin{document}
\frenchspacing
\begin{tikzpicture}
\useasboundingbox (0,0) rectangle (692.25pt,490.5pt);

% (A)
\begin{axis}[panel, at={(46.5pt,266.25pt)}, width=291.75pt, height=194.25pt,
  xtick=\empty, ytick={0,1,2,3,4,5,6,7},
  title={(A) Everyday: Nov. 5th to Dec. 31st -- 1999},
  ylabel={Square Root of Call Numbers},
  ylabel style={at={(axis description cs:-0.1036,0.5)}, anchor=base}]
\addplot[rb,lA] table[x=t,y=b1]{\tabA};
\addplot[rc,lA] table[x=t,y=c1]{\tabA};
\addplot[rg,lA] table[x=t,y=g2]{\tabA};
\addplot[rm,lA] table[x=t,y=m1]{\tabA};
\addplot[rb,lA] table[x=t,y=b2]{\tabA};
\addplot[rc,lA] table[x=t,y=c2]{\tabA};
\addplot[ry,lA] table[x=t,y=y2]{\tabA};
\addplot[rm,lA] table[x=t,y=m2]{\tabA};
\addplot[rg,lA] table[x=t,y=g1]{\tabA};
\addplot[ry,lA] table[x=t,y=y1]{\tabA};
\addplot[rr,lA] table[x=t,y=r1]{\tabA};
\addplot[rr,lA] table[x=t,y=r2]{\tabA};
\addplot[rr,lA] table[x=t,y=r3]{\tabAx};
\addplot[rk,lA] table[x=t,y=k1]{\tabA};
\addplot[rk,lA] table[x=t,y=k3]{\tabAx};
\addplot[rk,lA] table[x=t,y=k2]{\tabA};
\end{axis}

% (B)
\begin{axis}[panel, at={(383.25pt,266.25pt)}, width=292.5pt, height=194.25pt,
  xtick=\empty, ytick=\empty,
  title={(B) H \& U Forecast: Nov. 5th to Dec. 31st -- 1999}]
\addplot[rk,lB] table[x=t,y=k1]{\tabB};
\addplot[rk,lB] table[x=t,y=k6]{\tabBx};
\addplot[rk,lB] table[x=t,y=k2]{\tabB};
\addplot[rk,lB] table[x=t,y=k7]{\tabBx};
\addplot[rk,lB] table[x=t,y=k3]{\tabB};
\addplot[rk,lB] table[x=t,y=k8]{\tabBx};
\addplot[rk,lB] table[x=t,y=k4]{\tabB};
\addplot[rk,lB] table[x=t,y=k5]{\tabB};
\addplot[rg,lB] table[x=t,y=g1]{\tabB};
\addplot[rg,lB] table[x=t,y=g2]{\tabB};
\addplot[ry,lB] table[x=t,y=y1]{\tabB};
\addplot[ry,lB] table[x=t,y=y2]{\tabB};
\addplot[ry,lB] table[x=t,y=y3]{\tabBx};
\addplot[rc,lB] table[x=t,y=c1]{\tabB};
\addplot[rc,lB] table[x=t,y=c2]{\tabBx};
\addplot[rm,lB] table[x=t,y=m1]{\tabB};
\addplot[rm,lB] table[x=t,y=m2]{\tabB};
\addplot[rm,lB] table[x=t,y=m3]{\tabBx};
\addplot[rb,lB] table[x=t,y=b1]{\tabB};
\addplot[rb,lB] table[x=t,y=b2]{\tabB};
\addplot[rb,lB] table[x=t,y=b3]{\tabBx};
\addplot[rr,lB] table[x=t,y=r1]{\tabB};
\addplot[rr,lB] table[x=t,y=r4]{\tabBx};
\addplot[rr,lB] table[x=t,y=r2]{\tabB};
\addplot[rr,lB] table[x=t,y=r3]{\tabB};
\end{axis}

% (C)
\begin{axis}[panel, at={(46.5pt,41.25pt)}, width=291.75pt, height=193.5pt,
  xtick={1,6,12,18,23}, xticklabels={01:00,06:00,12:00,18:00,23:00},
  ytick={0,1,2,3,4,5,6,7},
  title={(C) V--Forecast: Nov. 5th to Dec. 31st -- 1999},
  ylabel={Square Root of Call Numbers},
  ylabel style={at={(axis description cs:-0.1036,0.5)}, anchor=base},
  xlabel={Time (6 minutes aggregated)},
  xlabel style={at={(axis description cs:0.5,-0.1772)}, anchor=base}]
\addplot[rk,lK] table[x=t,y=k1]{\tabC};
\addplot[rk,lK] table[x=t,y=k2]{\tabC};
\addplot[rg,lU] table[x=t,y=g1]{\tabC};
\addplot[rg,lU] table[x=t,y=g2]{\tabC};
\addplot[rc,lU] table[x=t,y=c1]{\tabC};
\addplot[rc,lU] table[x=t,y=c2]{\tabC};
\addplot[rm,lU] table[x=t,y=m1]{\tabC};
\addplot[rm,lU] table[x=t,y=m2]{\tabC};
\addplot[rm,lU] table[x=t,y=m3]{\tabC};
\addplot[rb,lU] table[x=t,y=b1]{\tabC};
\addplot[rb,lU] table[x=t,y=b2]{\tabC};
\addplot[ry,lU] table[x=t,y=y1]{\tabC};
\addplot[ry,lU] table[x=t,y=y2]{\tabC};
\addplot[ry,lU] table[x=t,y=y3]{\tabC};
\addplot[rr,lK] table[x=t,y=r1]{\tabC};
\addplot[rr,lK] table[x=t,y=r2]{\tabC};
\end{axis}

% (D)
\begin{axis}[panel, at={(383.25pt,41.25pt)}, width=292.5pt, height=193.5pt,
  xtick={1,6,12,18,23}, xticklabels={01:00,06:00,12:00,18:00,23:00},
  ytick=\empty,
  title={(D) R--Forecast: Nov. 5th to Dec. 31st -- 1999},
  xlabel={Time (6 minutes aggregated)},
  xlabel style={at={(axis description cs:0.5,-0.1772)}, anchor=base}]
\addplot[rk,lK] table[x=t,y=k1]{\tabD};
\addplot[rk,lK] table[x=t,y=k2]{\tabD};
\addplot[rg,lU] table[x=t,y=g1]{\tabD};
\addplot[rg,lU] table[x=t,y=g2]{\tabD};
\addplot[rc,lU] table[x=t,y=c1]{\tabD};
\addplot[rc,lU] table[x=t,y=c2]{\tabD};
\addplot[rm,lU] table[x=t,y=m1]{\tabD};
\addplot[rm,lU] table[x=t,y=m2]{\tabD};
\addplot[rm,lU] table[x=t,y=m3]{\tabD};
\addplot[rb,lU] table[x=t,y=b1]{\tabD};
\addplot[rb,lU] table[x=t,y=b2]{\tabD};
\addplot[ry,lU] table[x=t,y=y1]{\tabD};
\addplot[ry,lU] table[x=t,y=y2]{\tabD};
\addplot[ry,lU] table[x=t,y=y3]{\tabD};
\addplot[rr,lK] table[x=t,y=r1]{\tabD};
\addplot[rr,lK] table[x=t,y=r2]{\tabD};
\end{axis}
\end{tikzpicture}
\end{document}
